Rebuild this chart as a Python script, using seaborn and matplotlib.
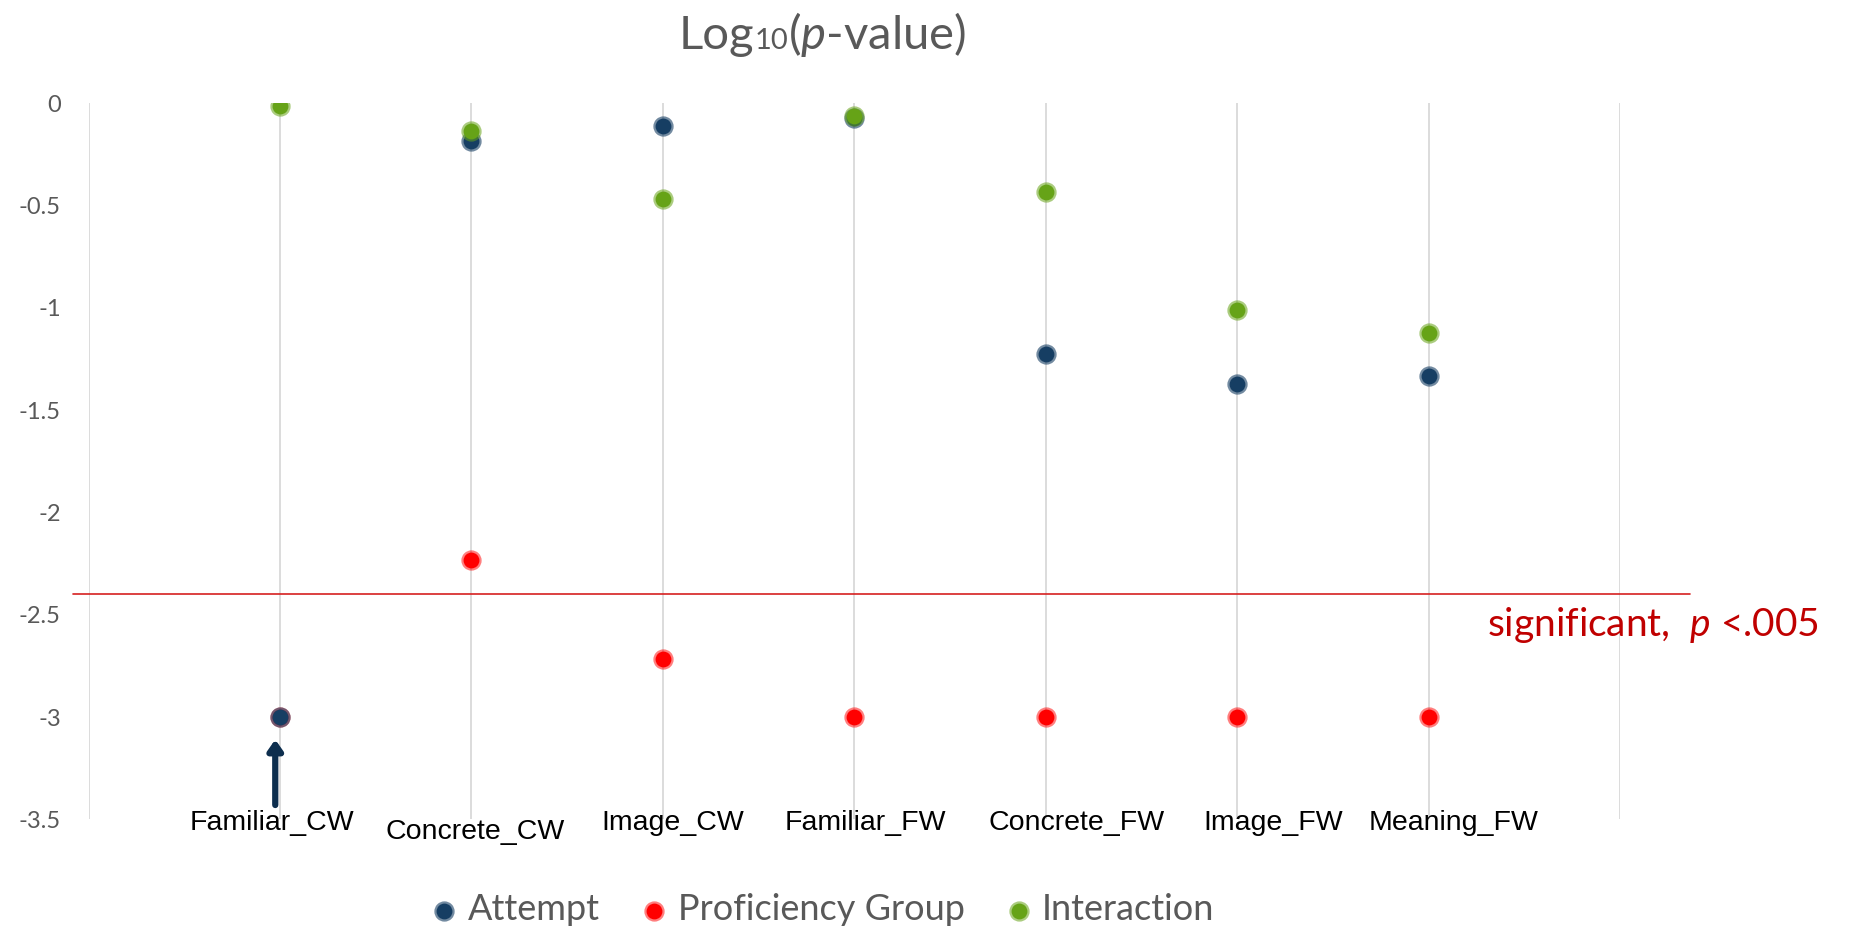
import pandas as pd
import numpy as np
import matplotlib
matplotlib.use("Agg")
import matplotlib.pyplot as plt
import seaborn as sns
from matplotlib.transforms import offset_copy

# values (log10 of p-values)
categories = ["Familiar_CW", "Concrete_CW", "Image_CW", "Familiar_FW",
              "Concrete_FW", "Image_FW", "Meaning_FW"]
attempt = [-3.0, -0.186, -0.113, -0.075, -1.224, -1.375, -1.334]
proficiency = [-3.0, -2.235, -2.715, -3.0, -3.0, -3.0, -3.0]
interaction = [-0.017, -0.136, -0.469, -0.065, -0.433, -1.011, -1.126]
threshold = -2.4

series_names = ["Attempt", "Proficiency Group", "Interaction"]
fills = {"Attempt": "#163E63", "Proficiency Group": "#FF0000", "Interaction": "#66A317"}
# semi-transparent rims, like the Excel markers
edges = {"Attempt": (0.086, 0.243, 0.388, 0.6),
         "Proficiency Group": (1.0, 0.0, 0.0, 0.5),
         "Interaction": (0.4, 0.64, 0.09, 0.55)}

xpos = np.arange(1, len(categories) + 1)
df = pd.DataFrame({
    "x": np.tile(xpos, 3),
    "logp": proficiency + attempt + interaction,
    "series": np.repeat(["Proficiency Group", "Attempt", "Interaction"], len(categories)),
})

sns.set_theme(style="white")
plt.rcParams["font.family"] = ["Lato", "DejaVu Sans"]
plt.rcParams["mathtext.fontset"] = "custom"
plt.rcParams["mathtext.rm"] = "Lato"
plt.rcParams["mathtext.it"] = "Lato:italic"

fig = plt.figure(figsize=(18.54, 9.33), dpi=100)
ax = fig.add_axes([0.0478, 0.1218, 0.826, 0.7678])

# red first so the attempt dot sits on top at Familiar_CW
for name in ["Proficiency Group", "Attempt", "Interaction"]:
    sub = df[df["series"] == name]
    sns.scatterplot(data=sub, x="x", y="logp", ax=ax, s=130, color=fills[name],
                    edgecolor=[edges[name]], linewidth=3.2, label=name, zorder=3)

ax.set_xlim(0, 8)
ax.set_ylim(-3.5, 0)
ax.set_xticks(np.arange(0, 9))
ax.set_xticklabels([])
ax.set_yticks(np.arange(-3.5, 0.01, 0.5))
ax.set_yticklabels([f"{v:g}" for v in np.arange(-3.5, 0.01, 0.5)])
ax.tick_params(axis="y", length=0, labelsize=17, labelcolor="#595959", pad=20)
ax.tick_params(axis="x", length=0)
ax.grid(axis="x", color="#D9D9D9", linewidth=1.3)
ax.grid(axis="y", visible=False)
for sp in ax.spines.values():
    sp.set_visible(False)
ax.set_xlabel("")
ax.set_ylabel("")

# significance line, runs a bit past the plot area
ax.axhline(threshold, xmin=-0.01, xmax=1.046, color="#D62020", linewidth=1.2,
           clip_on=False, zorder=2)
ax.text(8.17, -2.55, r"significant,  $\mathit{p}$ <.005", color="#C00000",
        fontsize=28, ha="center", va="center", clip_on=False)

# category labels as text boxes under each column
label_dx = [-0.04, 0.02, 0.05, 0.06, 0.16, 0.19, 0.13]
label_y = [-3.52, -3.56, -3.52, -3.52, -3.52, -3.52, -3.52]
for x, lab, dx, ly in zip(xpos, categories, label_dx, label_y):
    ax.text(x + dx, ly, lab, ha="center", va="center", fontsize=20.5,
            family=["Liberation Sans", "DejaVu Sans"], color="black", clip_on=False)

# arrow pointing at the overlapping Familiar_CW dots
ax.annotate("", xy=(0.975, -3.11), xytext=(0.975, -3.43),
            arrowprops=dict(arrowstyle="-|>,head_width=0.35,head_length=0.5",
                            color="#0D2E4E", linewidth=4.5, shrinkA=0, shrinkB=0))

# title in three pieces so the small "10" sits on the baseline
renderer = fig.canvas.get_renderer()
title_parts = [("Log", 34), ("10", 21), (r"($\mathit{p}$-value)", 34)]
widths = []
for txt, fs in title_parts:
    t = fig.text(0, 0, txt, fontsize=fs)
    widths.append(t.get_window_extent(renderer).width)
    t.remove()
x0 = 0.4435 * fig.bbox.width - sum(widths) / 2
for (txt, fs), w in zip(title_parts, widths):
    fig.text(x0 / fig.bbox.width, 0.948, txt, fontsize=fs, color="#595959",
             ha="left", va="baseline")
    x0 += w

handles, labels = ax.get_legend_handles_labels()
order = [labels.index(n) for n in series_names]
ax.legend([handles[i] for i in order], [labels[i] for i in order], ncol=3,
          loc="center", bbox_to_anchor=(0.4435, 0.025), bbox_transform=fig.transFigure,
          frameon=False, fontsize=26, labelcolor="#595959", handlelength=0.8,
          handletextpad=0.25, columnspacing=1.1, markerscale=1.0)

fig.savefig("out.png", dpi=100)
